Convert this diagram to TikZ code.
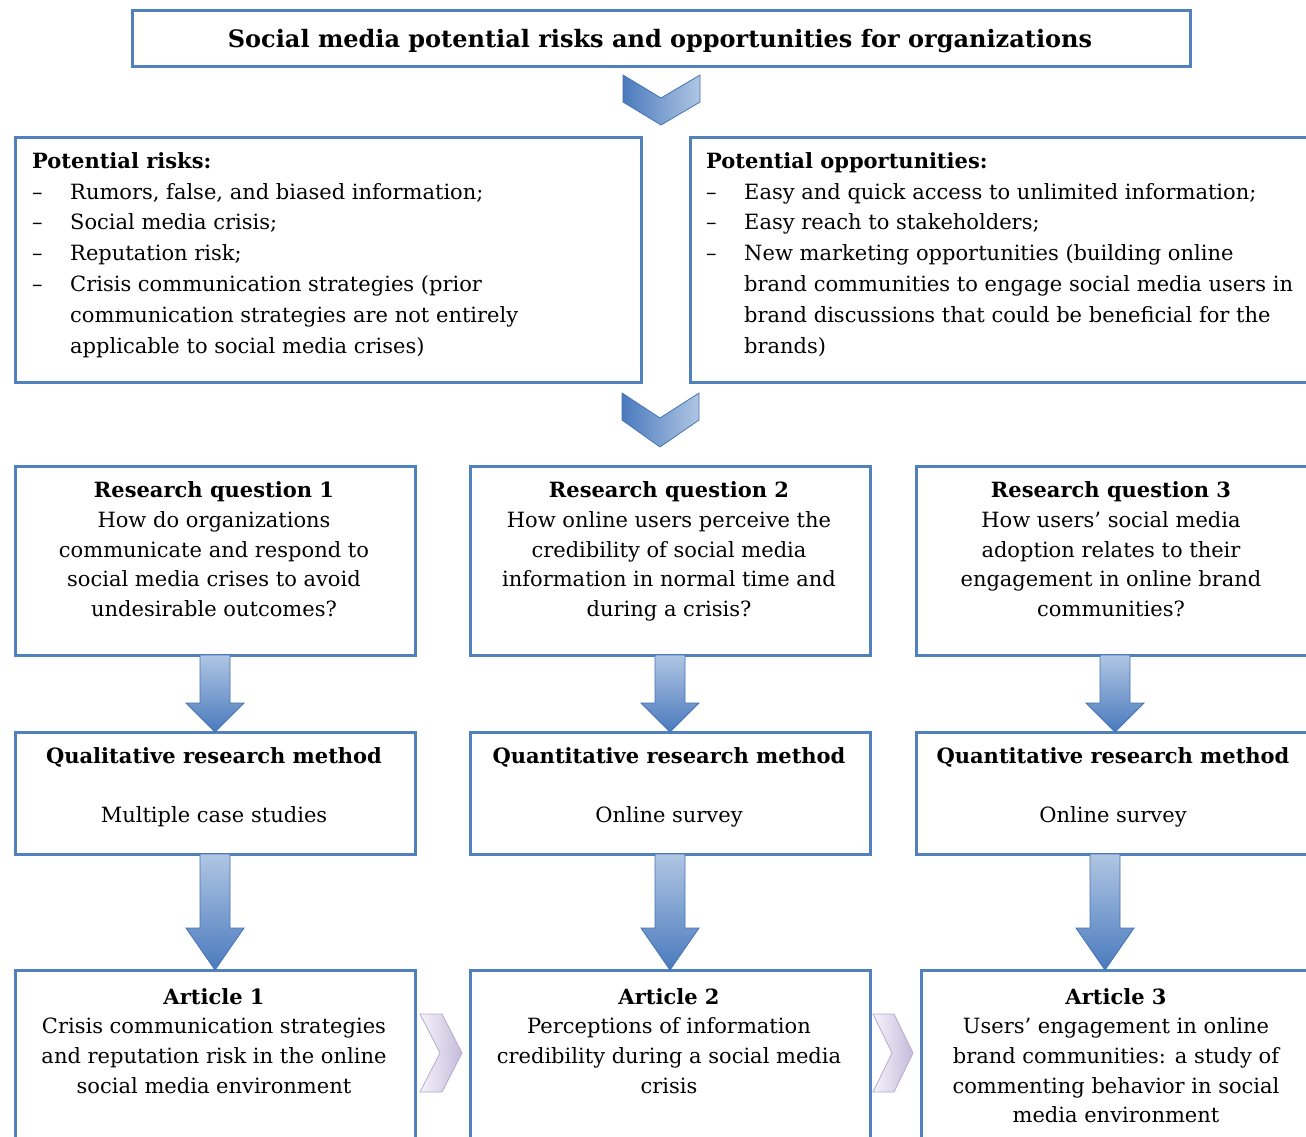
\documentclass[tikz,border=0pt]{standalone}
\usepackage{fontspec}
\setmainfont{DejaVu Serif}
\usetikzlibrary{calc}
\definecolor{boxblue}{RGB}{79,129,189}
\definecolor{arrowdark}{RGB}{74,122,189}
\definecolor{arrowlight}{RGB}{176,198,227}
\definecolor{arrowedge}{RGB}{70,115,180}
\definecolor{lavlight}{RGB}{245,243,250}
\definecolor{lavdark}{RGB}{196,187,219}
\definecolor{lavedge}{RGB}{180,170,208}
\tikzset{
  box/.style={draw=boxblue, line width=3pt, fill=white, outer sep=0pt},
  bodytext/.style={inner sep=0pt, font=\fontsize{21}{29.7}\selectfont},
  listtext/.style={inner sep=0pt, align=left, font=\fontsize{21}{30.9}\selectfont},
  centertext/.style={bodytext, align=center},
  titletext/.style={inner sep=0pt, font=\bfseries\fontsize{24}{28}\selectfont},
  chevshade/.style={left color=arrowdark, right color=arrowlight, draw=arrowedge, line width=0.8pt},
  arrowshade/.style={top color=arrowlight, bottom color=arrowdark, draw=arrowedge, line width=0.8pt},
  lavshade/.style={left color=lavlight, right color=lavdark, draw=lavedge, line width=0.8pt},
}
\newcommand{\dashitem}{\makebox[38pt][l]{--}}
\newcommand{\hang}{\hspace*{38pt}}
% block arrow from (#1) down to (#2): shaft half width, head half width, head length
\newcommand{\blockarrow}[5]{%
  \shade[arrowshade]
    ($(#1)+(-#3,0)$) -- ($(#2)+(-#3,-#5)$) -- ($(#2)+(-#4,-#5)$) -- (#2)
    -- ($(#2)+(#4,-#5)$) -- ($(#2)+(#3,-#5)$) -- ($(#1)+(#3,0)$) -- cycle;}
\begin{document}
\begin{tikzpicture}[x=1pt,y=-1pt]
\useasboundingbox (0,0) rectangle (1306,1136);
\fill[white] (0,0) rectangle (1306,1136);
\clip (0,0) rectangle (1306,1136);

% title
\node[box, anchor=north west, minimum width=1058pt, minimum height=56pt] (title) at (132,10) {};
\node[titletext, anchor=north] (titlet) at (660,29) {Social media potential risks and opportunities for organizations};

% chevron below title
\coordinate (c1) at ($(title.south)+(0,9)$);
\shade[chevshade] (c1) ++(-38,0) -- ++(38,23) -- ++(39,-23) -- ++(0,27) -- ++(-39,23) -- ++(-38,-23) -- cycle;

% risks and opportunities
\node[box, anchor=north west, minimum width=626pt, minimum height=245pt] (risks) at (15,137) {};
\node[box, anchor=north west, minimum width=660pt, minimum height=245pt] (opps) at (690,137) {};

\node[listtext, anchor=north west] (riskst) at (32,152) {%
\textbf{Potential risks:}\\
\dashitem Rumors, false, and biased information;\\
\dashitem Social media crisis;\\
\dashitem Reputation risk;\\
\dashitem Crisis communication strategies (prior\\
\hang communication strategies are not entirely\\
\hang applicable to social media crises)};

\node[listtext, anchor=north west] (oppst) at (706,152) {%
\textbf{Potential opportunities:}\\
\dashitem Easy and quick access to unlimited information;\\
\dashitem Easy reach to stakeholders;\\
\dashitem New marketing opportunities (building online\\
\hang brand communities to engage social media users in\\
\hang brand discussions that could be beneficial for the\\
\hang brands)};

% chevron below the two boxes
\coordinate (c2) at (660,393);
\shade[chevshade] (c2) ++(-38,0) -- ++(38,25) -- ++(39,-25) -- ++(0,27) -- ++(-39,27) -- ++(-38,-27) -- cycle;

% research questions
\node[box, anchor=north west, minimum width=400pt, minimum height=189pt] (rq1) at (15,466) {};
\node[box, anchor=north west, minimum width=400pt, minimum height=189pt] (rq2) at (470,466) {};
\node[box, anchor=north west, minimum width=410pt, minimum height=189pt] (rq3) at (916,466) {};

\node[centertext, anchor=north] (rq1t) at (214,481.5) {\textbf{Research question 1}\\
How do organizations\\ communicate and respond to\\ social media crises to avoid\\ undesirable outcomes?};
\node[centertext, anchor=north] (rq2t) at (669,481.5) {\textbf{Research question 2}\\
How online users perceive the\\ credibility of social media\\ information in normal time and\\ during a crisis?};
\node[centertext, anchor=north] (rq3t) at (1111,481.5) {\textbf{Research question 3}\\
How users’ social media\\ adoption relates to their\\ engagement in online brand\\ communities?};

% methods
\node[box, anchor=north west, minimum width=400pt, minimum height=122pt] (m1) at (15,732) {};
\node[box, anchor=north west, minimum width=400pt, minimum height=122pt] (m2) at (470,732) {};
\node[box, anchor=north west, minimum width=410pt, minimum height=122pt] (m3) at (916,732) {};

\node[centertext, anchor=north, font=\fontsize{21}{59}\selectfont] (m1t) at (214,747) {\textbf{Qualitative research method}\\ Multiple case studies};
\node[centertext, anchor=north, font=\fontsize{21}{59}\selectfont] (m2t) at (669,747) {\textbf{Quantitative research method}\\ Online survey};
\node[centertext, anchor=north, font=\fontsize{21}{59}\selectfont] (m3t) at (1113,747) {\textbf{Quantitative research method}\\ Online survey};

% articles
\node[box, anchor=north west, minimum width=400pt, minimum height=200pt] (a1) at (15,970) {};
\node[box, anchor=north west, minimum width=400pt, minimum height=200pt] (a2) at (470,970) {};
\node[box, anchor=north west, minimum width=410pt, minimum height=200pt] (a3) at (921,970) {};

\node[centertext, anchor=north] (a1t) at (214,988) {\textbf{Article 1}\\
Crisis communication strategies\\ and reputation risk in the online\\ social media environment};
\node[centertext, anchor=north] (a2t) at (669,988) {\textbf{Article 2}\\
Perceptions of information\\ credibility during a social media\\ crisis};
\node[centertext, anchor=north] (a3t) at (1116,988) {\textbf{Article 3}\\
Users’ engagement in online\\ brand communities: a study of\\ commenting behavior in social\\ media environment};

% block arrows: question -> method
\blockarrow{rq1.south}{m1.north}{15}{29}{29}
\blockarrow{rq2.south}{m2.north}{15}{29}{29}
\coordinate (rq3a) at ($(rq3.south west)+(199,0)$);
\coordinate (m3a) at ($(m3.north west)+(199,0)$);
\blockarrow{rq3a}{m3a}{15}{29}{29}

% block arrows: method -> article
\blockarrow{m1.south}{a1.north}{15}{29}{42}
\blockarrow{m2.south}{a2.north}{15}{29}{42}
\coordinate (m3b) at ($(m3.south west)+(189,0)$);
\coordinate (a3b) at ($(a3.north west)+(184,0)$);
\blockarrow{m3b}{a3b}{15}{29}{42}

% chevrons between articles
\coordinate (p1) at ($(a1.north east)+(5,44)$);
\shade[lavshade] (p1) -- ++(22,0) -- ++(20,39) -- ++(-20,39) -- ++(-22,0) -- ++(20,-39) -- cycle;
\coordinate (p2) at ($(a2.north east)+(3,44)$);
\shade[lavshade] (p2) -- ++(21,0) -- ++(19,39) -- ++(-19,39) -- ++(-21,0) -- ++(19,-39) -- cycle;
\end{tikzpicture}
\end{document}
